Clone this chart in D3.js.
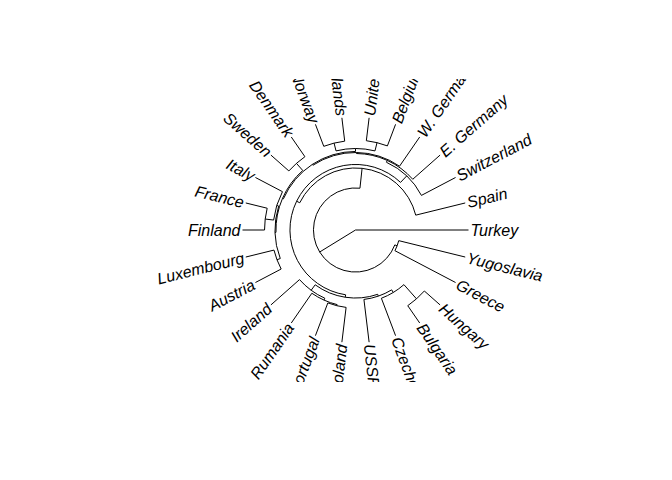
<!DOCTYPE html>
<html>
<head>
<meta charset="utf-8">
<script src="https://cdn.jsdelivr.net/npm/d3@7"></script>
<style>
    html, body { margin: 0; padding: 0; background: #fff; }
    svg { display: block; }
    .edge { fill: none; stroke: #000; stroke-width: 1; }
    .tip { font-family: "Liberation Sans", Arial, Helvetica, sans-serif; font-style: italic; font-size: 16px; fill: #000; }
</style>
</head>
<body>
<div id="chart"></div>
<script>
// Tip labels in the order they sit round the fan (counter-clockwise, first one just above Turkey)
const tipLabels = [
    'Spain', 'Switzerland', 'E. Germany', 'W. Germany', 'Belgium', 'United Kingdom',
    'Netherlands', 'Norway', 'Denmark', 'Sweden', 'Italy', 'France', 'Finland',
    'Luxembourg', 'Austria', 'Ireland', 'Rumania', 'Portugal', 'Poland', 'USSR',
    'Czechoslovakia', 'Bulgaria', 'Hungary', 'Greece', 'Yugoslavia', 'Turkey'
];

// Merge steps, hclust style: negative = tip number (1-based), positive = earlier step
const mergeLeft   = [-22, -12, -5, -7, -9, -14, -11, 3, 7, 5, 8, -18, -4, -17, -3, -16, -2, -21, -20, 16, 17, -1, -24, 22, 24];
const mergeRight  = [-23, -13, -6, -8, -10, -15, 2, 4, 6, 9, 10, -19, 11, 12, 13, 14, 15, 1, 18, 19, 20, 21, -25, 23, -26];
const mergeHeight = [18.6, 19.5, 20.4, 20.8, 21.2, 25.7, 27.0, 27.9, 28.8, 29.6, 30.5, 31.0, 31.4, 32.0, 32.3, 33.8, 34.1, 35.4, 38.1, 39.8, 42.0, 45.1, 60.6, 62.8, 100];

// Layout
const width = 672;
const height = 480;
const cx = 355.5, cy = 230;
const tipRadius = 113;
const labelOffset = 2;
const plotBox = {x0: 79, y0: 79, x1: 633, y1: 382};

function buildTree() {
    const steps = [];
    const ref = v => v < 0 ? {name: tipLabels[-v - 1], tip: -v} : steps[v - 1];
    mergeHeight.forEach((h, i) => {
        steps.push({height: h, children: [ref(mergeLeft[i]), ref(mergeRight[i])]});
    });
    return steps[steps.length - 1];
}

function pt(theta, r) {
    return [r * Math.cos(theta), -r * Math.sin(theta)];
}

function renderFan() {
    const root = d3.hierarchy(buildTree(), d => d.children);
    const n = tipLabels.length;

    const angle = d3.scaleLinear().domain([0, n]).range([0, 2 * Math.PI]);
    const radius = d3.scaleLinear().domain([root.data.height, 0]).range([0, tipRadius]);

    // ape style: node angle is the mean of its direct children
    root.eachAfter(d => {
        if (d.children) {
            d.theta = d3.mean(d.children, c => c.theta);
            d.r = radius(d.data.height);
        } else {
            d.theta = angle(d.data.tip);
            d.r = tipRadius;
        }
    });

    const svg = d3.select('#chart')
        .append('svg')
        .attr('width', width)
        .attr('height', height);

    svg.append('clipPath')
        .attr('id', 'plot-clip')
        .append('rect')
        .attr('x', plotBox.x0)
        .attr('y', plotBox.y0)
        .attr('width', plotBox.x1 - plotBox.x0)
        .attr('height', plotBox.y1 - plotBox.y0);

    const g = svg.append('g')
        .attr('clip-path', 'url(#plot-clip)')
        .append('g')
        .attr('transform', `translate(${cx},${cy})`);

    // radial segments
    g.selectAll('line.radial')
        .data(root.descendants().filter(d => d.parent))
        .enter()
        .append('line')
        .attr('class', 'edge radial')
        .attr('x1', d => pt(d.theta, d.parent.r)[0])
        .attr('y1', d => pt(d.theta, d.parent.r)[1])
        .attr('x2', d => pt(d.theta, d.r)[0])
        .attr('y2', d => pt(d.theta, d.r)[1]);

    // arcs joining the children of each node
    g.selectAll('path.arc')
        .data(root.descendants().filter(d => d.children && d.r > 0))
        .enter()
        .append('path')
        .attr('class', 'edge arc')
        .attr('d', d => {
            const t0 = d3.min(d.children, c => c.theta);
            const t1 = d3.max(d.children, c => c.theta);
            const p = d3.path();
            const s = pt(t0, d.r);
            p.moveTo(s[0], s[1]);
            p.arc(0, 0, d.r, -t0, -t1, true);
            return p.toString();
        });

    // tip labels
    g.selectAll('text.tip')
        .data(root.leaves())
        .enter()
        .append('text')
        .attr('class', 'tip')
        .attr('dy', '0.36em')
        .attr('text-anchor', d => Math.cos(d.theta) >= 0 ? 'start' : 'end')
        .attr('transform', d => {
            const [x, y] = pt(d.theta, tipRadius + labelOffset);
            let deg = d.theta * 180 / Math.PI;
            if (Math.cos(d.theta) < 0) deg -= 180;
            return `translate(${x},${y}) rotate(${-deg})`;
        })
        .text(d => d.data.name);
}

window.addEventListener('DOMContentLoaded', renderFan);
</script>
</body>
</html>
